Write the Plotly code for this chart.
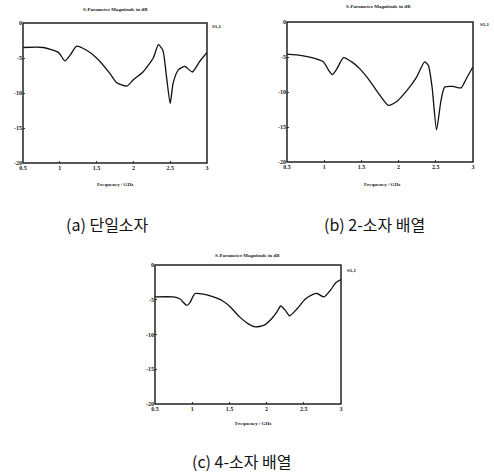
import plotly.graph_objects as go

# ---- data (frequency in GHz, S11 in dB) ----
freq_a = [0.5, 0.776, 0.98, 1.07, 1.14, 1.23, 1.365, 1.50, 1.68, 1.77, 1.91, 2.0, 2.13, 2.27, 2.34, 2.40, 2.45, 2.50, 2.54, 2.61, 2.70, 2.80, 2.90, 3.0]
s11_a = [-3.5, -3.5, -4.2, -5.4, -4.6, -3.3, -3.9, -5.0, -7.2, -8.5, -9.0, -8.1, -7.0, -5.0, -3.1, -3.9, -7.7, -11.5, -8.6, -6.7, -6.2, -7.0, -5.5, -4.2]

freq_b = [0.5, 0.7, 0.835, 0.99, 1.06, 1.11, 1.17, 1.26, 1.37, 1.48, 1.59, 1.73, 1.86, 1.97, 2.11, 2.24, 2.35, 2.40, 2.45, 2.51, 2.57, 2.62, 2.73, 2.84, 2.91, 3.0]
s11_b = [-4.6, -4.8, -5.1, -5.7, -6.9, -7.5, -6.7, -5.1, -5.7, -6.7, -8.1, -10.2, -11.9, -11.4, -9.8, -7.9, -5.7, -6.2, -9.3, -15.4, -11.2, -9.3, -9.2, -9.4, -8.1, -6.4]

freq_c = [0.5, 0.747, 0.837, 0.926, 0.97, 1.007, 1.04, 1.15, 1.285, 1.40, 1.51, 1.64, 1.76, 1.85, 1.96, 2.07, 2.14, 2.19, 2.25, 2.31, 2.41, 2.52, 2.61, 2.68, 2.77, 2.86, 2.93, 3.0]
s11_c = [-4.6, -4.6, -4.9, -5.8, -5.4, -4.6, -4.1, -4.2, -4.6, -5.1, -6.0, -7.5, -8.5, -8.9, -8.7, -7.7, -6.7, -5.9, -6.5, -7.3, -6.3, -4.9, -4.3, -4.1, -4.6, -3.6, -2.55, -2.1]

x_ticks = [0.5, 1, 1.5, 2, 2.5, 3]
x_tick_text = ["0.5", "1", "1.5", "2", "2.5", "3"]
y_ticks = [0, -5, -10, -15, -20]
y_tick_text = ["0", "-5", "-10", "-15", "-20"]

chart_title = "S-Parameter Magnitude in dB"
x_title = "Frequency / GHz"
trace_label = "S1,1"
captions = ["(a) 단일소자", "(b) 2-소자 배열", "(c) 4-소자 배열"]

W, H = 494, 476

def px(x):
    return x / W

def py(y):
    return 1 - y / H

fig = go.Figure()

panels = [
    # (freq, s11, x-domain px, y-domain px, axis suffix)
    (freq_a, s11_a, (23, 207), (23, 163), ""),
    (freq_b, s11_b, (287, 473), (22, 162), "2"),
    (freq_c, s11_c, (155, 341), (265, 404), "3"),
]

tick_font = dict(family="Liberation Serif", size=6, color="#222", weight="bold")
shapes = []

for f, s, (x0, x1), (y0, y1), suf in panels:
    fig.add_trace(go.Scatter(
        x=f, y=s, mode="lines", line=dict(color="#111", width=1.3, shape="spline", smoothing=0.6),
        xaxis="x" + suf, yaxis="y" + suf, showlegend=False, hoverinfo="skip"))
    fig.layout["xaxis" + suf] = dict(
        domain=[px(x0), px(x1)], range=[0.5, 3], anchor="y" + suf, automargin=False,
        tickvals=x_ticks, ticktext=x_tick_text, tickfont=tick_font,
        showline=False, ticks="inside", ticklen=2, tickcolor="#333",
        showgrid=False, zeroline=False)
    fig.layout["yaxis" + suf] = dict(
        domain=[py(y1), py(y0)], range=[-20, 0], anchor="x" + suf, automargin=False,
        tickvals=y_ticks, ticktext=y_tick_text, tickfont=tick_font,
        showline=False, ticks="inside", ticklen=2, tickcolor="#333",
        showgrid=False, zeroline=False)
    shapes.append(dict(type="rect", xref=("x" + suf) + " domain", yref=("y" + suf) + " domain",
                       x0=0, x1=1, y0=0, y1=1, line=dict(color="#222", width=1.5),
                       fillcolor="rgba(0,0,0,0)", layer="above"))

ann = []
def add_text(text, x, y, size, family="Liberation Serif", weight="bold", color="#222"):
    ann.append(dict(text=text, x=px(x), y=py(y), xref="paper", yref="paper",
                    showarrow=False, xanchor="center", yanchor="middle",
                    font=dict(family=family, size=size, color=color, weight=weight)))

# titles, labels
add_text(chart_title, 115, 9, 5)
add_text(trace_label, 217, 26, 5)
add_text(x_title, 115, 185, 5)
add_text(chart_title, 378, 7, 5)
add_text(trace_label, 485, 24, 5)
add_text(x_title, 382, 185, 5)
add_text(chart_title, 247, 255, 5)
add_text(trace_label, 352, 270, 5)
add_text(x_title, 253, 423, 5)

cap_font = "Noto Sans CJK KR"
add_text(captions[0], 107, 224, 16, family=cap_font, weight="normal", color="#111")
add_text(captions[1], 374, 224, 16, family=cap_font, weight="normal", color="#111")
add_text(captions[2], 241, 461, 16, family=cap_font, weight="normal", color="#111")

fig.update_layout(
    width=W, height=H, margin=dict(l=0, r=0, t=0, b=0),
    paper_bgcolor="white", plot_bgcolor="white", annotations=ann, shapes=shapes)

fig.write_html("out.html", config={"displayModeBar": False},
               post_script="document.body.style.margin='0';document.body.style.overflow='hidden';")
